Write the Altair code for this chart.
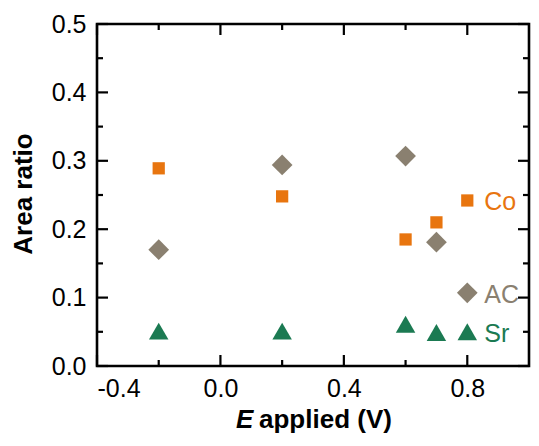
import altair as alt
import pandas as pd

# ---- data ----
E_applied = [-0.2, 0.2, 0.6, 0.7, 0.8]
co_ratio = [0.289, 0.248, 0.185, 0.210, 0.242]
ac_ratio = [0.170, 0.294, 0.307, 0.181, 0.107]
sr_ratio = [0.051, 0.051, 0.061, 0.049, 0.050]

series_names = ["Co", "AC", "Sr"]
series_colors = ["#E8750F", "#8A8070", "#1B7A52"]

x_labels = [-0.4, 0.0, 0.4, 0.8]
x_minor = [-0.2, 0.2, 0.6]
y_labels = [0.0, 0.1, 0.2, 0.3, 0.4, 0.5]
y_minor = [0.05, 0.15, 0.25, 0.35, 0.45]

W, H = 432, 342
FONT = "Liberation Sans, Arial, sans-serif"
MAJ, MIN = 11, 6

df = pd.DataFrame({"E": E_applied, "Co": co_ratio, "AC": ac_ratio, "Sr": sr_ratio})

xs = alt.Scale(domain=[-0.4, 1.0], nice=False, zero=False)
ys = alt.Scale(domain=[0.0, 0.5], nice=False, zero=False)

lab_expr = "replace(format(datum.value, '.1f'), '\u2212', '-')"
xaxis = alt.Axis(values=x_labels, labelExpr=lab_expr, title=None, ticks=False, tickSize=0,
                 domain=False, grid=False, labelFontSize=25, labelFont=FONT,
                 labelColor="black", labelPadding=10)
yaxis = alt.Axis(values=y_labels, labelExpr=lab_expr, title=None, ticks=False, tickSize=0,
                 domain=False, grid=False, labelFontSize=25, labelFont=FONT,
                 labelColor="black", labelPadding=11)

shapes = {"Co": ("square", 150), "AC": ("diamond", 430), "Sr": ("triangle-up", 380)}

layers = []
for i, name in enumerate(series_names):
    shp, sz = shapes[name]
    layers.append(
        alt.Chart(df).mark_point(filled=True, shape=shp, size=sz, opacity=1,
                                 color=series_colors[i])
        .encode(x=alt.X("E:Q", scale=xs, axis=xaxis),
                y=alt.Y(f"{name}:Q", scale=ys, axis=yaxis))
    )

# series labels next to the points at E = 0.8
lab_df = pd.DataFrame({
    "E": [E_applied[-1]] * 3,
    "y": [co_ratio[-1], ac_ratio[-1], sr_ratio[-1]],
    "name": series_names,
})
labels = alt.Chart(lab_df).mark_text(align="left", baseline="middle", dx=17, dy=2,
                                     fontSize=25, font=FONT).encode(
    x=alt.X("E:Q", scale=xs),
    y=alt.Y("y:Q", scale=ys),
    text="name:N",
    color=alt.Color("name:N", scale=alt.Scale(domain=series_names, range=series_colors),
                    legend=None),
)

# inward ticks on all four sides
xmaj = pd.DataFrame({"v": x_labels})
xmin = pd.DataFrame({"v": x_minor})
ymaj = pd.DataFrame({"v": y_labels})
ymin = pd.DataFrame({"v": y_minor})

tick_layers = []
for src, ln in [(xmaj, MAJ), (xmin, MIN)]:
    tick_layers.append(alt.Chart(src).mark_rule(color="black", strokeWidth=2.2).encode(
        x=alt.X("v:Q", scale=xs), y=alt.value(H), y2=alt.value(H - ln)))
    tick_layers.append(alt.Chart(src).mark_rule(color="black", strokeWidth=2.2).encode(
        x=alt.X("v:Q", scale=xs), y=alt.value(0), y2=alt.value(ln)))
for src, ln in [(ymaj, MAJ), (ymin, MIN)]:
    tick_layers.append(alt.Chart(src).mark_rule(color="black", strokeWidth=2.2).encode(
        y=alt.Y("v:Q", scale=ys), x=alt.value(0), x2=alt.value(ln)))
    tick_layers.append(alt.Chart(src).mark_rule(color="black", strokeWidth=2.2).encode(
        y=alt.Y("v:Q", scale=ys), x=alt.value(W), x2=alt.value(W - ln)))

title_src = pd.DataFrame({"t": [0]})

x_title_e = alt.Chart(title_src).mark_text(text="E", align="left", baseline="alphabetic",
                                           fontSize=26, fontWeight="bold", fontStyle="italic",
                                           font=FONT).encode(x=alt.value(139), y=alt.value(404))
x_title_rest = alt.Chart(title_src).mark_text(text="applied (V)", align="left",
                                              baseline="alphabetic", fontSize=26,
                                              fontWeight="bold", font=FONT).encode(
    x=alt.value(162), y=alt.value(404))
y_title = alt.Chart(title_src).mark_text(text="Area ratio", align="center", baseline="middle",
                                         angle=270, fontSize=26, fontWeight="bold",
                                         font=FONT).encode(x=alt.value(-73), y=alt.value(170))

chart = alt.layer(*layers, labels, *tick_layers, x_title_e, x_title_rest,
                  y_title).properties(
    width=W, height=H,
    padding={"left": 89, "top": 16, "right": 2, "bottom": 67},
    autosize=alt.AutoSizeParams(type="none"),
).configure_view(stroke="black", strokeWidth=2.6)

chart.save("out.html", embed_options={"renderer": "svg", "actions": False})
